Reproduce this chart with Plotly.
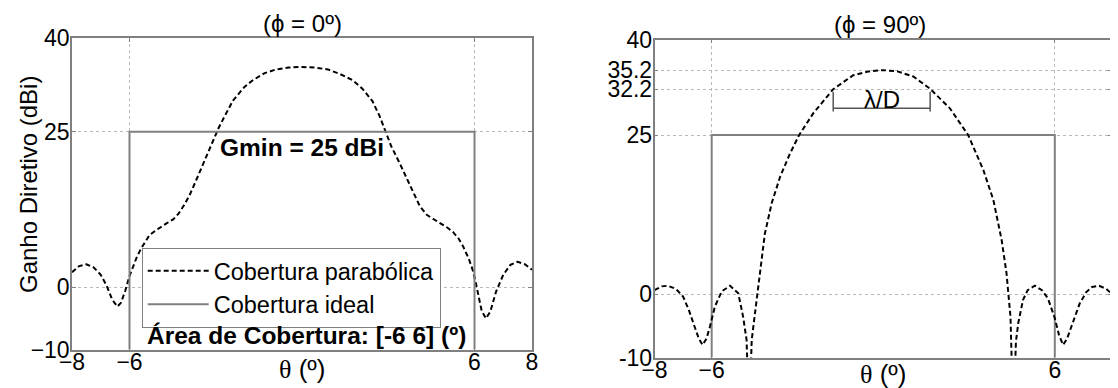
import plotly.graph_objects as go

# page is rendered with an 8px body margin, so positions are planned in window pixels
WIN_W, WIN_H = 1118, 388
OFF = 8
W, H = WIN_W - OFF, WIN_H - OFF

# ---------------- data ----------------
theta_left = [-8.0, -7.75, -7.5, -7.25, -7.0, -6.8, -6.6, -6.42, -6.3, -6.15, -6.0, -5.9, -5.75, -5.6,
              -5.45, -5.3, -5.1, -4.95, -4.7, -4.48, -4.3, -4.1, -3.9, -3.7, -3.5, -3.3, -3.1, -2.9,
              -2.7, -2.4, -2.0, -1.7, -1.3, -0.9, -0.45, 0.0, 0.45, 0.9, 1.3, 1.75, 2.1, 2.45, 2.7,
              2.9, 3.1, 3.4, 3.65, 3.9, 4.1, 4.35, 4.6, 4.8, 5.05, 5.25, 5.45, 5.6, 5.8, 5.95, 6.05,
              6.15, 6.25, 6.4, 6.55, 6.75, 7.0, 7.25, 7.5, 7.75, 8.0]
gain_left = [2.4, 3.4, 3.7, 3.2, 2.0, 0.3, -2.0, -3.1, -2.5, -0.6, 1.8, 3.0, 4.8, 6.2,
             7.4, 8.4, 9.1, 9.6, 10.3, 10.9, 11.8, 13.2, 14.9, 17.0, 19.2, 21.2, 23.4, 25.6,
             27.4, 30.0, 32.2, 33.3, 34.4, 35.0, 35.3, 35.4, 35.3, 35.0, 34.3, 33.3, 31.9, 29.9, 27.5,
             25.0, 22.7, 19.9, 17.4, 14.9, 13.0, 11.6, 10.8, 10.3, 9.6, 8.9, 7.8, 6.6, 4.6, 2.6, 0.6,
             -1.8, -3.8, -5.0, -3.9, -0.7, 2.0, 3.6, 4.1, 3.7, 2.8]

theta_right = [-8.0, -7.75, -7.53, -7.25, -7.0, -6.8, -6.64, -6.45, -6.32, -6.18, -6.06, -5.89, -5.65,
               -5.36, -5.07, -4.9, -4.78, -4.69, -4.6, -4.45, -4.31, -4.14, -3.9, -3.61, -3.26, -2.94,
               -2.45, -1.75, -1.05, -0.5, 0.0, 0.5, 1.05, 1.63, 2.33, 2.97, 3.5, 3.85, 4.14, 4.31, 4.45,
               4.55, 4.64, 4.72, 4.89, 5.05, 5.3, 5.55, 5.76, 6.0, 6.15, 6.29, 6.43, 6.58, 6.87, 7.1,
               7.3, 7.55, 7.8, 8.0]
gain_right = [0.6, 1.2, 1.3, 0.8, -0.4, -2.5, -4.6, -7.0, -8.0, -7.0, -5.1, -2.0, 0.4,
              1.3, 0.1, -3.6, -7.2, -20.0, -7.2, -1.5, 3.8, 9.5, 14.3, 18.4, 22.1, 25.0,
              28.4, 32.2, 34.4, 35.0, 35.2, 35.0, 34.2, 32.3, 29.2, 25.0, 19.5, 14.8, 8.5, 3.3, -3.6,
              -20.0, -7.5, -4.6, -0.9, 0.6, 1.3, 0.6, -0.7, -3.8, -6.5, -8.0, -7.0, -5.1, -1.5, 0.3,
              1.1, 1.3, 0.8, 0.0]

ideal_theta = [-6, -6, 6, 6]
ideal_gain = [-10, 25, 25, -10]

x_ticks = [-8, -6, 6, 8]
y_ticks_left = [-10, 0, 25, 40]
y_ticks_right = [-10, 0, 25, 32.2, 35.2, 40]
y_ticktext_right = ["-10", "0", "25", "32.2", "35.2", "40"]

lambda_d_span = [-1.75, 1.64]   # theta limits of the lambda/D bracket
lambda_d_level = 29.2
lambda_d_tick = [28.7, 31.8]

series_names = ["Cobertura parabólica", "Cobertura ideal"]

# ---------------- style ----------------
FONT = "Liberation Sans, Arial, sans-serif"
FS = 24
FT = 23
GREY = "#808080"
GRID = "#b8b8b8"


def px(x):
    return (x - OFF) / W


def py(y):
    return 1 - (y - OFF) / H


def xd(a, b):
    return [px(a), px(b)]


def yd(top, bottom):
    return [py(bottom), py(top)]


fig = go.Figure()

dash = "5px,3px"
fig.add_trace(go.Scatter(x=theta_left, y=gain_left, mode="lines", name=series_names[0],
                         line=dict(color="black", width=2, dash=dash), xaxis="x", yaxis="y"))
fig.add_trace(go.Scatter(x=ideal_theta, y=ideal_gain, mode="lines", name=series_names[1],
                         line=dict(color=GREY, width=2), xaxis="x", yaxis="y"))
fig.add_trace(go.Scatter(x=ideal_theta, y=ideal_gain, mode="lines", showlegend=False,
                         line=dict(color=GREY, width=2), xaxis="x2", yaxis="y2"))
fig.add_trace(go.Scatter(x=theta_right, y=gain_right, mode="lines", showlegend=False,
                         line=dict(color="black", width=2, dash=dash), xaxis="x2", yaxis="y2"))

# lambda/D bracket
fig.add_trace(go.Scatter(x=[lambda_d_span[0], lambda_d_span[1]], y=[lambda_d_level, lambda_d_level],
                         mode="lines", showlegend=False, line=dict(color="#555555", width=1.5),
                         xaxis="x2", yaxis="y2"))
for xv in lambda_d_span:
    fig.add_trace(go.Scatter(x=[xv, xv], y=lambda_d_tick, mode="lines", showlegend=False,
                             line=dict(color="#555555", width=1.5), xaxis="x2", yaxis="y2"))

axis_common = dict(showline=True, mirror="ticks", linecolor=GREY, linewidth=1.5,
                   ticks="inside", ticklen=4, tickcolor=GREY, tickwidth=1,
                   showgrid=True, gridcolor=GRID, griddash="dot", gridwidth=1,
                   zeroline=False, tickfont=dict(family=FONT, size=FT, color="black"),
                   fixedrange=True, automargin=False)
xcommon = dict(axis_common, ticklabelstandoff=-9)
ycommon = dict(axis_common, ticklabelstandoff=-4)

fig.update_layout(
    width=W, height=H, margin=dict(l=0, r=0, t=0, b=0, pad=0, autoexpand=False),
    paper_bgcolor="white", plot_bgcolor="white",
    font=dict(family=FONT, size=FS, color="black"),
    xaxis=dict(domain=xd(72, 532), range=[-8, 8], tickvals=x_ticks, anchor="y", **xcommon),
    yaxis=dict(domain=yd(38.3, 349.5), range=[-10, 40], tickvals=y_ticks_left, anchor="x", **ycommon),
    xaxis2=dict(domain=xd(654.5, 1112), range=[-8, 8], tickvals=x_ticks, anchor="y2", **xcommon),
    yaxis2=dict(domain=yd(39.6, 357.6), range=[-10, 40], tickvals=y_ticks_right,
                ticktext=y_ticktext_right, anchor="x2", **ycommon),
    legend=dict(x=px(141.7), y=py(248), xanchor="left", yanchor="top",
                bgcolor="white", bordercolor=GREY, borderwidth=1,
                font=dict(family=FONT, size=23.5), itemwidth=61, tracegroupgap=0),
    showlegend=True,
)


def text(t, x, y, size, xref="paper", yref="paper", angle=0):
    return dict(text=t, x=x, y=y, xref=xref, yref=yref, showarrow=False, textangle=angle,
                xanchor="center", yanchor="middle", font=dict(size=size))


xt = "<span style=\"font-family:Liberation Serif\">θ</span> (º)"
ann = [
    text("(ϕ = 0º)", px(302), py(23), FS),
    text("(ϕ = 90º)", px(880), py(24), FS),
    text(xt, px(302), py(369), 26),
    text(xt, px(883), py(374), 26),
    text("Ganho Diretivo (dBi)", px(28), py(185), FS, angle=-90),
    text("<b>Gmin = 25 dBi</b>", 0, 22.4, 24.5, "x", "y"),
    text("<b>Área de Cobertura: [-6 6] (º)</b>", 0.16, -7.75, 24.5, "x", "y"),
    text("λ/D", -0.05, 30.6, FS, "x2", "y2"),
]
fig.update_layout(annotations=ann)

fig.write_html("out.html")
